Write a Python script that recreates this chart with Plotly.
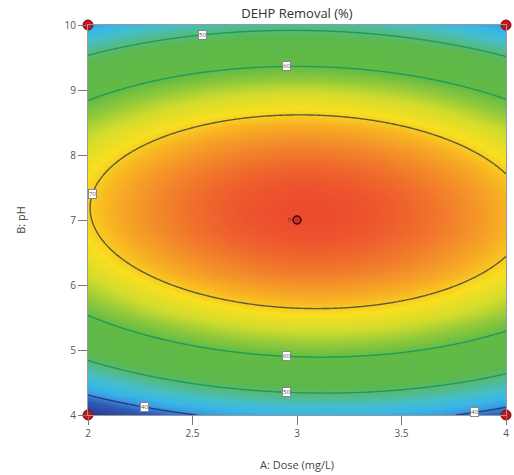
import numpy as np
import plotly.graph_objects as go

# ---- data ----
dose_range = [2.0, 4.0]          # A: Dose (mg/L)
ph_range = [4.0, 10.0]           # B: pH
# quadratic model in coded units (A=(dose-3)/1, B=(pH-7)/3)
coef_names = ["b0", "bA", "bB", "bAB", "bAA", "bBB"]
coef_vals = [77.9, 0.85, 2.81, -1.2, -7.33, -32.4]
contour_levels = [40, 50, 60, 70]
design_dose = [2, 2, 4, 4]
design_ph = [4, 10, 4, 10]
center_dose = [3]
center_ph = [7]
center_reps = ["5"]
x_ticks = [2, 2.5, 3, 3.5, 4]
x_tick_text = ["2", "2.5", "3", "3.5", "4"]
y_ticks = [4, 5, 6, 7, 8, 9, 10]
# contour label placement: (level, given axis, given value, branch)
label_specs = [
    (50, "dose", 2.55, "upper"), (60, "dose", 2.95, "upper"),
    (70, "ph", 7.4, "lower"), (60, "dose", 2.95, "lower"),
    (50, "dose", 2.95, "lower"), (40, "dose", 2.27, "lower"),
    (40, "dose", 3.85, "lower"),
]

# ---- style ----
contour_colors = ["#27388c", "#1c9c5a", "#1c9c5a", "#5e5a34"]
FONT = "Open Sans, Noto Sans, sans-serif"

c = dict(zip(coef_names, coef_vals))


def model(dose, ph):
    a = (np.asarray(dose) - 3.0) / 1.0
    b = (np.asarray(ph) - 7.0) / 3.0
    return (c["b0"] + c["bA"] * a + c["bB"] * b + c["bAB"] * a * b
            + c["bAA"] * a ** 2 + c["bBB"] * b ** 2)


def solve_label(level, axis, val, branch):
    if axis == "dose":
        a = val - 3.0
        qa = c["bBB"]
        qb = c["bB"] + c["bAB"] * a
        qc = c["b0"] + c["bA"] * a + c["bAA"] * a * a - level
        r = np.roots([qa, qb, qc]).real
        b = r.max() if branch == "upper" else r.min()
        return val, 7.0 + 3.0 * b
    b = (val - 7.0) / 3.0
    qa = c["bAA"]
    qb = c["bA"] + c["bAB"] * b
    qc = c["b0"] + c["bB"] * b + c["bBB"] * b * b - level
    r = np.roots([qa, qb, qc]).real
    a = r.max() if branch == "upper" else r.min()
    return 3.0 + a, val


xs = np.linspace(dose_range[0], dose_range[1], 201)
ys = np.linspace(ph_range[0], ph_range[1], 201)
X, Y = np.meshgrid(xs, ys)
Z = model(X, Y)

zmin, zmax = 33.0, 78.0
stops = [
    (33, "#28348e"), (38, "#2f5ab6"), (41, "#3a9ee0"), (43, "#38b6e8"),
    (46, "#45bfc8"), (50, "#58b872"), (52, "#5cb84a"), (60, "#62ba45"),
    (63, "#92c93b"), (66, "#d2dc2c"), (69, "#f8df20"), (71, "#f8b822"),
    (74, "#f38a2a"), (78, "#ec4a2e"),
]
colorscale = [[(v - zmin) / (zmax - zmin), col] for v, col in stops]

fig = go.Figure()
fig.add_trace(go.Heatmap(x=xs, y=ys, z=Z, colorscale=colorscale, zmin=zmin,
                         zmax=zmax, zsmooth="best", showscale=False,
                         hoverinfo="skip"))
for lev, col in zip(contour_levels, contour_colors):
    fig.add_trace(go.Contour(
        x=xs, y=ys, z=Z, showscale=False, hoverinfo="skip",
        contours=dict(coloring="none", start=lev, end=lev, size=1,
                      showlabels=False),
        line=dict(color=col, width=1.4, smoothing=1.0),
    ))

fig.add_trace(go.Scatter(x=design_dose, y=design_ph, mode="markers",
                         marker=dict(color="#c8141c", size=10,
                                     line=dict(color="#7a0a0a", width=1)),
                         cliponaxis=False, hoverinfo="skip", showlegend=False))
fig.add_trace(go.Scatter(x=center_dose, y=center_ph, mode="markers+text",
                         text=center_reps, textposition="middle left",
                         textfont=dict(size=6, color="#333"),
                         marker=dict(color="#d42a1e", size=8,
                                     line=dict(color="#3a0a0a", width=1.5)),
                         cliponaxis=False, hoverinfo="skip", showlegend=False))

for lev, axis, val, branch in label_specs:
    lx, ly = solve_label(lev, axis, val, branch)
    fig.add_annotation(x=lx, y=ly, text=str(lev), showarrow=False,
                       font=dict(family=FONT, size=6, color="#555"),
                       bgcolor="white", bordercolor="#888", borderwidth=1,
                       borderpad=0)

axis_font = dict(family=FONT, size=10, color="#555")
fig.update_layout(
    width=514, height=475,
    margin=dict(l=88, r=5, t=25, b=59),
    paper_bgcolor="white", plot_bgcolor="white",
    showlegend=False,
    title=dict(text="DEHP Removal (%)", x=0.5, xref="paper", xanchor="center",
               y=1 - 13 / 475, yref="container", yanchor="middle",
               font=dict(family=FONT, size=13, color="#333")),
    xaxis=dict(range=dose_range, tickvals=x_ticks, ticktext=x_tick_text,
               ticks="outside", ticklen=9, tickcolor="#777", tickwidth=1,
               showgrid=False, zeroline=False, showline=True, linecolor="#999",
               mirror=True, tickfont=axis_font,
               title=dict(text="A: Dose (mg/L)", standoff=22,
                          font=dict(family=FONT, size=11, color="#444"))),
    yaxis=dict(range=ph_range, tickvals=y_ticks,
               ticks="outside", ticklen=9, tickcolor="#777", tickwidth=1,
               showgrid=False, zeroline=False, showline=True, linecolor="#999",
               mirror=True, tickfont=axis_font,
               title=dict(text="B: pH", standoff=36,
                          font=dict(family=FONT, size=11, color="#444"))),
)
# remove the default page margin so the figure fills the 514x475 window
fig.write_html("out.html",
               config={"displayModeBar": False},
               post_script="document.body.style.margin='0px';"
                           "document.body.style.overflow='hidden';")
